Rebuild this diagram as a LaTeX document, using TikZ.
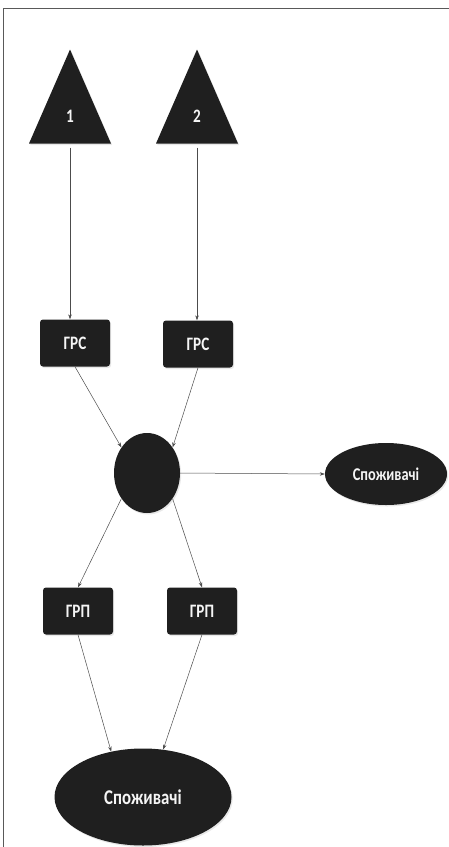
\documentclass[tikz,border=0pt]{standalone}
\usepackage{fontspec}
\setmainfont{Carlito}
\newfontfamily\cond[FakeStretch=0.8]{Carlito}
\usepackage{tikz}
\usetikzlibrary{arrows.meta}
\usetikzlibrary{shapes.geometric}
\usetikzlibrary{shadows}
\colorlet{nodefill}{black!88}
\colorlet{flowcolor}{black!70}
\tikzstyle{dark}=[fill=nodefill,text=black!4,inner sep=0pt,drop shadow={shadow xshift=1.2pt,shadow yshift=-1.5pt,fill=black!18}]
\tikzstyle{src}=[dark,isosceles triangle,shape border rotate=90,isosceles triangle stretches,minimum width=82pt,minimum height=94pt,anchor=apex,font=\cond\bfseries\fontsize{19}{19}\selectfont]
\tikzstyle{station}=[dark,rectangle,rounded corners=3pt,minimum width=70pt,minimum height=47pt,font=\cond\bfseries\fontsize{19}{19}\selectfont]
\tikzstyle{hub}=[dark,ellipse,minimum width=66pt,minimum height=80pt]
\tikzstyle{users}=[dark,ellipse,font=\cond\bfseries\fontsize{18}{18}\selectfont]
\tikzstyle{flow}=[line width=.5pt,draw=flowcolor,-{Stealth[length=5pt,width=3.5pt]}]
\begin{document}
\begin{tikzpicture}[x=1pt,y=-1pt]
	\useasboundingbox (0,0) rectangle (449,847);
	\draw[black!65,line width=.8pt] (3,847) -- (3,8) -- (449,8);
	% sources
	\node[src] (t1) at (70,49) {1};
	\node[src] (t2) at (197,49) {2};
	% stations
	\node[station] (g1) at (75,343) {ГРС};
	\node[station] (g2) at (198,344) {ГРС};
	\node[hub] (hub) at (147,473) {};
	\node[users,minimum width=122pt,minimum height=62pt] (u1) at (386,474) {Споживачі};
	\node[station] (p1) at (78,611) {ГРП};
	\node[station] (p2) at (202,611) {ГРП};
	\node[users,minimum width=177pt,minimum height=97pt,font=\cond\bfseries\fontsize{21}{21}\selectfont] (u2) at (143,797) {Споживачі};
	\draw[flow,shorten <=4pt] (t1.south) -- (t1.south |- g1.north);
	\draw[flow,shorten <=4pt] (t2.south) -- (t2.south |- g2.north);
	\draw[flow] (g1.south) -- (hub.135);
	\draw[flow] (g2.south) -- (hub.45);
	\draw[flow] (hub.east) -- (u1.west);
	\draw[flow] (hub.225) -- (p1.north);
	\draw[flow] (hub.315) -- (p2.north);
	\draw[flow] (p1.south) -- (u2.125);
	\draw[flow] (p2.south) -- (u2.67);
\end{tikzpicture}
\end{document}
